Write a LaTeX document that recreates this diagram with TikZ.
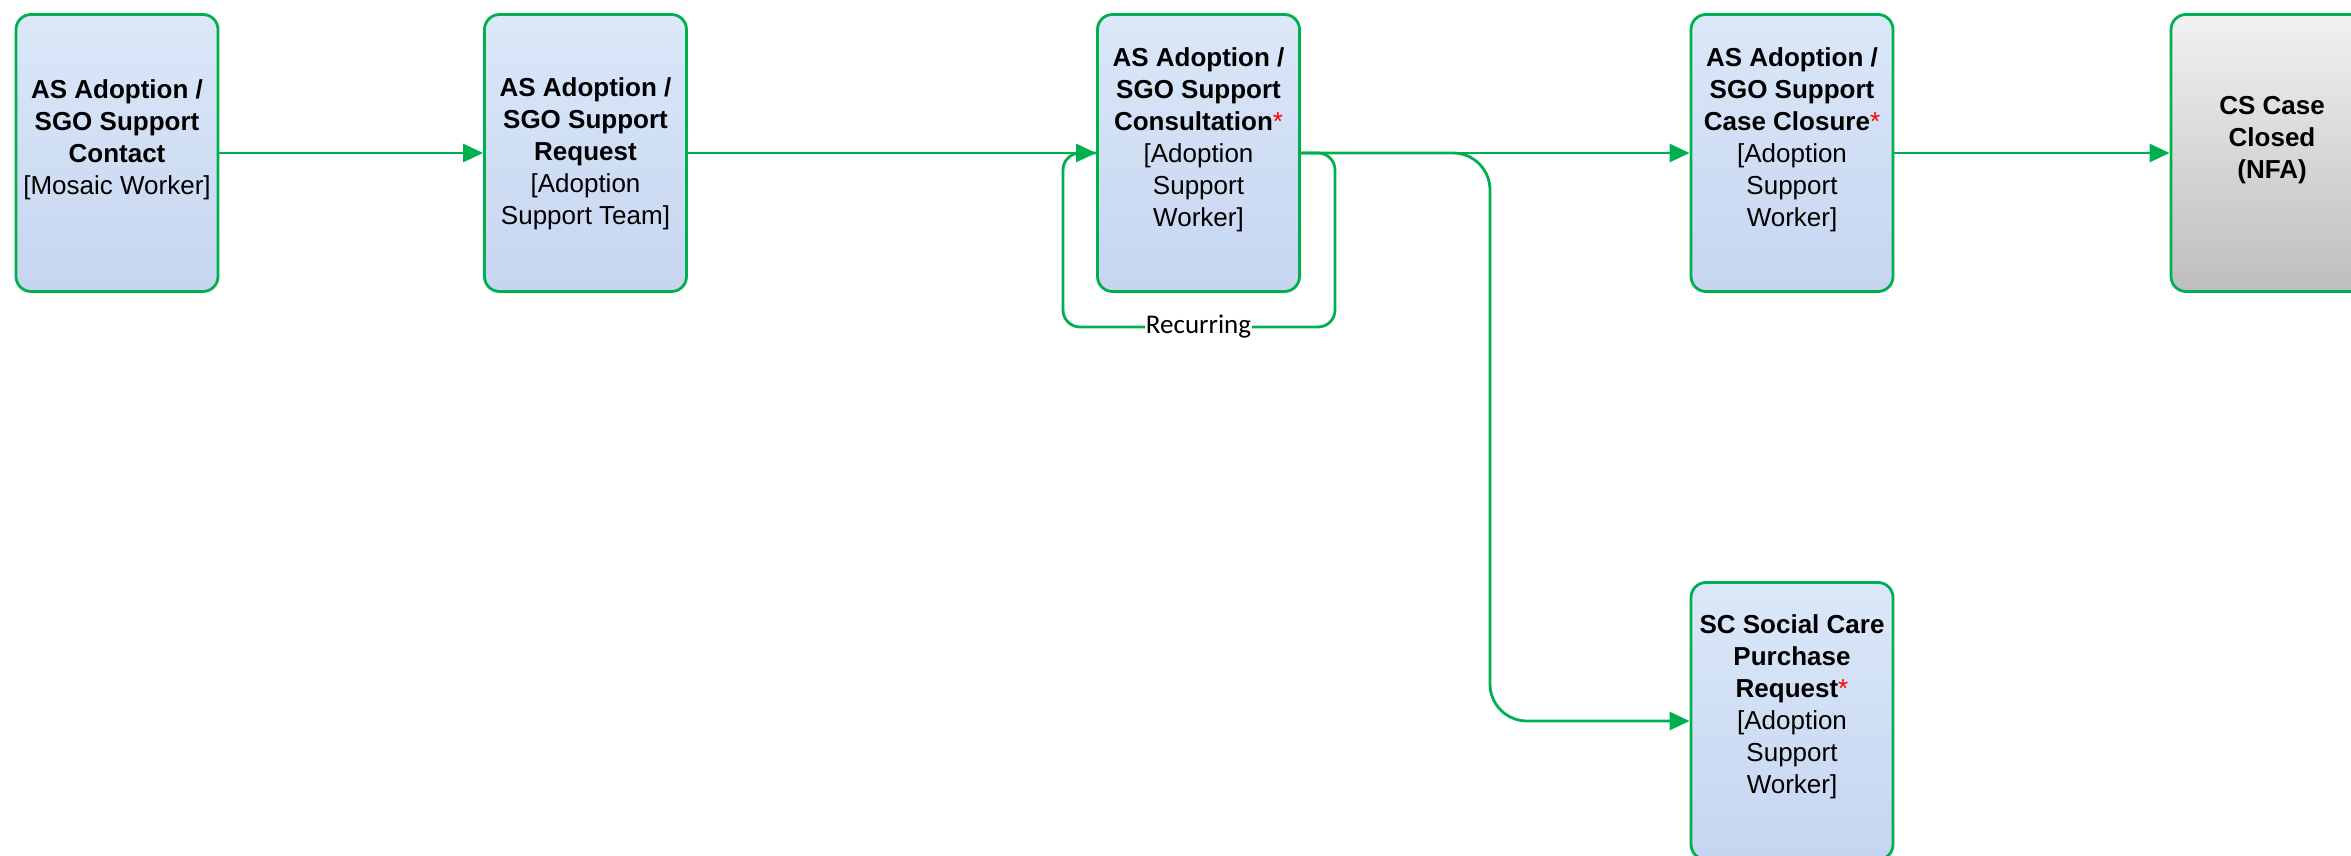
\documentclass[tikz,border=0pt]{standalone}
\usepackage{fontspec}
\setmainfont{Liberation Sans}
\newfontfamily\carlito{Carlito}
\usetikzlibrary{arrows.meta}
\definecolor{flowgreen}{RGB}{0,176,80}
\definecolor{boxtop}{RGB}{219,232,249}
\definecolor{boxbot}{RGB}{198,213,240}
\definecolor{greytop}{RGB}{241,241,241}
\definecolor{greybot}{RGB}{190,190,190}

\begin{document}
\begin{tikzpicture}[x=1pt, y=-1pt,
    stage/.style={draw=flowgreen, line width=2.8pt, rounded corners=15pt, minimum width=202pt, minimum height=277pt, top color=boxtop, bottom color=boxbot},
    endstage/.style={stage, top color=greytop, bottom color=greybot},
    stagetext/.style={align=center, font=\fontsize{26}{32}\selectfont, inner sep=0pt},
    flow/.style={draw=flowgreen, line width=2.8pt},
    flowarrow/.style={flow, -{Triangle[length=20pt,width=18pt]}},
    looplabel/.style={fill=white, inner xsep=1pt, inner ysep=2pt, font=\carlito\fontsize{27}{30}\selectfont}
    ]
        \useasboundingbox (0,0) rectangle (2351,856);

        % boxes
        \node[stage] (contact) at (117,153) {};
        \node[stage] (request) at (585.5,153) {};
        \node[stage] (consult) at (1198.5,153) {};
        \node[stage] (closure) at (1792,153) {};
        \node[endstage] (closed) at (2272,153) {};
        \node[stage] (purchase) at (1792,721) {};

        % box texts
        \node[stagetext] (contacttxt) at ([yshift=13pt]contact.center) {\textbf{AS Adoption /}\\\textbf{SGO Support}\\\textbf{Contact}\\{[Mosaic Worker]}};
        \node[stagetext] (requesttxt) at ([yshift=-1pt]request.center) {\textbf{AS Adoption /}\\\textbf{SGO Support}\\\textbf{Request}\\{[Adoption}\\Support Team]};
        \node[stagetext] (consulttxt) at ([yshift=13pt]consult.center) {\textbf{AS Adoption /}\\\textbf{SGO Support}\\\textbf{Consultation}\textcolor{red}{*}\\{[Adoption}\\Support\\Worker]};
        \node[stagetext] (closuretxt) at ([yshift=13pt]closure.center) {\textbf{AS Adoption /}\\\textbf{SGO Support}\\\textbf{Case Closure}\textcolor{red}{*}\\{[Adoption}\\Support\\Worker]};
        \node[stagetext] (closedtxt) at ([yshift=13pt]closed.center) {\textbf{CS Case}\\\textbf{Closed}\\\textbf{(NFA)}};
        \node[stagetext] (purchasetxt) at ([yshift=14pt]purchase.center) {\textbf{SC Social Care}\\\textbf{Purchase}\\\textbf{Request}\textcolor{red}{*}\\{[Adoption}\\Support\\Worker]};

        % recurring loop
        \coordinate (loopse) at (1335,327);
        \coordinate (loopnw) at (1063,153);
        \draw[flow, rounded corners=17pt] (consult.east) -| (loopse) -| (loopnw) -- (consult.west);
        \node[looplabel] (recurring) at (1198.5,327) {Recurring};

        % branch to purchase request
        \coordinate (branch) at (1490,721);
        \draw[flowarrow, rounded corners=37pt] (consult.east) -| (branch) -- (purchase.west);

        % main flow
        \draw[flowarrow] (contact.east) -- (request.west);
        \draw[flowarrow] (request.east) -- (consult.west);
        \draw[flowarrow] (consult.east) -- (closure.west);
        \draw[flowarrow] (closure.east) -- (closed.west);
    \end{tikzpicture}
\end{document}
